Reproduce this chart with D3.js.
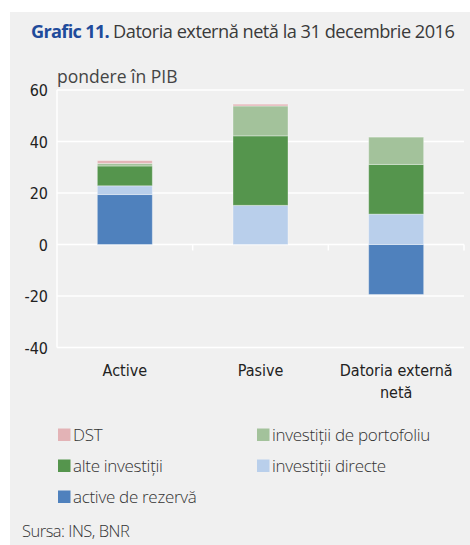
<!DOCTYPE html>
<html>
<head>
<meta charset="utf-8">
<script src="https://cdn.jsdelivr.net/npm/d3@7"></script>
<style>
  body { margin: 0; background: #fff; }
</style>
</head>
<body>
<script>
// Data
const categories = ["Active", "Pasive", "Datoria externă netă"];
const seriesNames = ["active de rezervă", "investiții directe", "alte investiții", "investiții de portofoliu", "DST"];
const rezerva = [19.4, 0, -19.4];
const directe = [3.4, 15.2, 11.8];
const alte = [7.7, 27.0, 19.3];
const portofoliu = [1.0, 11.6, 10.6];
const dst = [1.1, 0.7, 0];
const yTicks = [-40, -20, 0, 20, 40, 60];

// Canvas config
const config = { width: 470, height: 545 };
const colors = {
  "active de rezervă": "#4f81bd",
  "investiții directe": "#b9cfeb",
  "alte investiții": "#55954d",
  "investiții de portofoliu": "#a3c29b",
  "DST": "#e3b3b6"
};
const condensed = "DejaVu Sans Condensed, Liberation Sans Narrow, Roboto";

const svg = d3.select("body").append("svg")
  .attr("width", config.width)
  .attr("height", config.height);

// grey panel
svg.append("rect")
  .attr("x", 10).attr("y", 12)
  .attr("width", 460).attr("height", 533)
  .attr("fill", "#f0f0f0");

// Title
const title = svg.append("text")
  .attr("x", 31).attr("y", 38)
  .attr("font-family", "Open Sans")
  .attr("font-size", 18.2);
title.append("tspan")
  .attr("font-weight", "bold")
  .attr("fill", "#1f4b9b")
  .attr("letter-spacing", -0.7)
  .text("Grafic 11.");
title.append("tspan")
  .attr("fill", "#3a3a3a")
  .attr("dx", 4)
  .attr("letter-spacing", -0.5)
  .text("Datoria externă netă la 31 decembrie 2016");

svg.append("text")
  .attr("x", 57).attr("y", 83)
  .attr("font-family", "Open Sans")
  .attr("font-size", 17.5)
  .attr("fill", "#444")
  .text("pondere în PIB");

// Scales
const x = d3.scaleBand().domain(categories).range([57, 464]);
const y = d3.scaleLinear().domain([-40, 60]).range([347.5, 90]);
const barW = 55;

// gridlines
svg.append("g")
  .selectAll("line")
  .data(yTicks)
  .join("line")
  .attr("x1", 57).attr("x2", 464)
  .attr("y1", d => y(d)).attr("y2", d => y(d))
  .attr("stroke", "#fff").attr("stroke-width", 1.5);

// y axis line
svg.append("line")
  .attr("x1", 57).attr("x2", 57)
  .attr("y1", y(60)).attr("y2", y(-40))
  .attr("stroke", "#fff").attr("stroke-width", 1.5);

// category tick marks on zero line
svg.append("g")
  .selectAll("line")
  .data(categories)
  .join("line")
  .attr("x1", d => x(d) + x.bandwidth()).attr("x2", d => x(d) + x.bandwidth())
  .attr("y1", y(0)).attr("y2", y(0) + 6)
  .attr("stroke", "#fff").attr("stroke-width", 1.5);

// y tick labels
svg.append("g")
  .selectAll("text")
  .data(yTicks)
  .join("text")
  .attr("x", 48)
  .attr("y", d => y(d) + 6)
  .attr("text-anchor", "end")
  .attr("font-family", condensed)
  .attr("font-size", 16)
  .attr("fill", "#222")
  .text(d => d);

// Stack
const table = categories.map((c, i) => ({
  cat: c,
  "active de rezervă": rezerva[i],
  "investiții directe": directe[i],
  "alte investiții": alte[i],
  "investiții de portofoliu": portofoliu[i],
  "DST": dst[i]
}));
const stack = d3.stack().keys(seriesNames).offset(d3.stackOffsetDiverging);
const layers = stack(table);

svg.append("g")
  .selectAll("g")
  .data(layers)
  .join("g")
  .attr("fill", d => colors[d.key])
  .selectAll("rect")
  .data(d => d)
  .join("rect")
  .attr("x", d => x(d.data.cat) + (x.bandwidth() - barW) / 2)
  .attr("width", barW)
  .attr("y", d => y(Math.max(d[0], d[1])))
  .attr("height", d => Math.abs(y(d[0]) - y(d[1])))
  .attr("stroke", "rgba(255,255,255,0.35)")
  .attr("stroke-width", 1);

// category labels
const catLabels = svg.append("g")
  .selectAll("text")
  .data(categories)
  .join("text")
  .attr("x", d => x(d) + x.bandwidth() / 2)
  .attr("y", 376)
  .attr("text-anchor", "middle")
  .attr("font-family", condensed)
  .attr("font-size", 16)
  .attr("fill", "#222");
catLabels.each(function (d) {
  const lines = d === "Datoria externă netă" ? ["Datoria externă", "netă"] : [d];
  d3.select(this).selectAll("tspan")
    .data(lines)
    .join("tspan")
    .attr("x", x(d) + x.bandwidth() / 2)
    .attr("dy", (l, i) => i === 0 ? 0 : 22)
    .text(l => l);
});

// Legend
const legendItems = ["DST", "investiții de portofoliu", "alte investiții", "investiții directe", "active de rezervă"];
const legend = svg.append("g")
  .selectAll("g")
  .data(legendItems)
  .join("g")
  .attr("transform", (d, i) => `translate(${i % 2 === 0 ? 58 : 257},${435 + Math.floor(i / 2) * 31})`);
legend.append("rect")
  .attr("x", 0).attr("y", -6.5)
  .attr("width", 12.5).attr("height", 12.5)
  .attr("fill", d => colors[d]);
legend.append("text")
  .attr("x", 15).attr("y", 6)
  .attr("font-family", "Open Sans")
  .attr("font-weight", 300)
  .attr("font-size", 17)
  .attr("fill", "#333")
  .attr("letter-spacing", -0.3)
  .text(d => d);

svg.append("text")
  .attr("x", 22).attr("y", 537)
  .attr("font-family", "Open Sans")
  .attr("font-weight", 300)
  .attr("font-size", 16.5)
  .attr("fill", "#333")
  .attr("letter-spacing", -0.5)
  .text("Sursa: INS, BNR");
</script>
</body>
</html>
